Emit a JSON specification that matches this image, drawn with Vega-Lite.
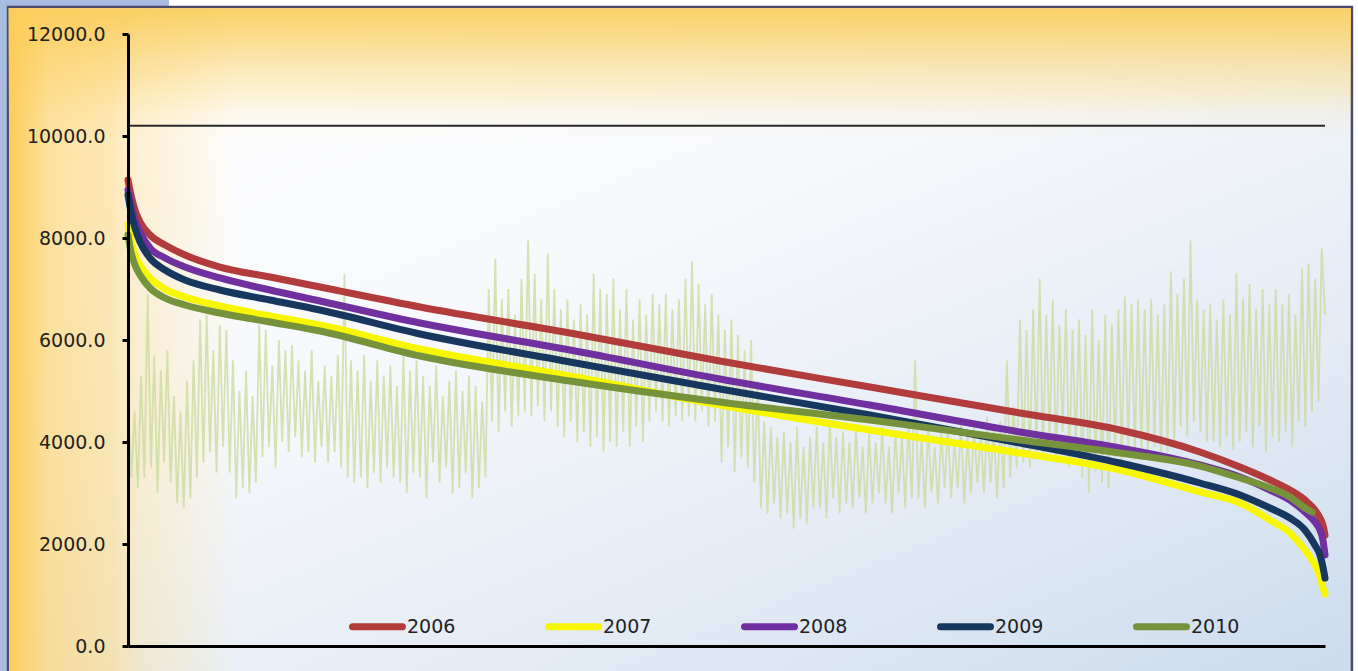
{
  "$schema": "https://vega.github.io/schema/vega-lite/v6.json",
  "width": 1197,
  "height": 612,
  "autosize": {"type": "none"},
  "padding": {"left": 128, "top": 34, "right": 33, "bottom": 25},
  "background": "#ffffff",
  "config": {
    "view": {"stroke": null},
    "font": "DejaVu Sans",
    "legend": {
      "orient": "none",
      "legendX": 221,
      "legendY": 564,
      "direction": "horizontal",
      "symbolType": "stroke",
      "symbolSize": 2500,
      "symbolStrokeWidth": 7,
      "labelFont": "DejaVu Sans",
      "labelFontSize": 19,
      "labelColor": "#222222",
      "labelOffset": 1,
      "columnPadding": 78,
      "padding": 0,
      "zindex": 2
    }
  },
  "resolve": {"axis": {"x": "independent", "y": "independent"}},
  "datasets": {
    "one": [{}],
    "curves": [
      {"year":"2006","t":0,"v":9137},{"year":"2006","t":22,"v":8843},{"year":"2006","t":51,"v":8549},{"year":"2006","t":88,"v":8314},{"year":"2006","t":161,"v":8059},{"year":"2006","t":271,"v":7863},{"year":"2006","t":417,"v":7667},{"year":"2006","t":673,"v":7431},{"year":"2006","t":1039,"v":7235},{"year":"2006","t":1405,"v":7039},{"year":"2006","t":2137,"v":6647},{"year":"2006","t":3235,"v":6137},{"year":"2006","t":4332,"v":5588},{"year":"2006","t":5430,"v":5078},{"year":"2006","t":6528,"v":4569},{"year":"2006","t":7259,"v":4235},{"year":"2006","t":7845,"v":3804},{"year":"2006","t":8138,"v":3510},{"year":"2006","t":8357,"v":3255},{"year":"2006","t":8503,"v":3059},{"year":"2006","t":8613,"v":2863},{"year":"2006","t":8686,"v":2667},{"year":"2006","t":8723,"v":2510},{"year":"2006","t":8745,"v":2373},{"year":"2006","t":8760,"v":2176},
      {"year":"2007","t":0,"v":8255},{"year":"2007","t":22,"v":7961},{"year":"2007","t":51,"v":7667},{"year":"2007","t":88,"v":7471},{"year":"2007","t":161,"v":7216},{"year":"2007","t":271,"v":7000},{"year":"2007","t":417,"v":6843},{"year":"2007","t":673,"v":6667},{"year":"2007","t":1039,"v":6471},{"year":"2007","t":1405,"v":6294},{"year":"2007","t":2137,"v":5824},{"year":"2007","t":3235,"v":5294},{"year":"2007","t":4332,"v":4725},{"year":"2007","t":5430,"v":4235},{"year":"2007","t":6528,"v":3784},{"year":"2007","t":7259,"v":3451},{"year":"2007","t":7845,"v":3020},{"year":"2007","t":8138,"v":2804},{"year":"2007","t":8357,"v":2471},{"year":"2007","t":8503,"v":2216},{"year":"2007","t":8613,"v":1882},{"year":"2007","t":8686,"v":1588},{"year":"2007","t":8723,"v":1353},{"year":"2007","t":8745,"v":1137},{"year":"2007","t":8760,"v":1020},
      {"year":"2008","t":0,"v":8941},{"year":"2008","t":22,"v":8647},{"year":"2008","t":51,"v":8353},{"year":"2008","t":88,"v":8118},{"year":"2008","t":161,"v":7804},{"year":"2008","t":271,"v":7608},{"year":"2008","t":417,"v":7431},{"year":"2008","t":673,"v":7216},{"year":"2008","t":1039,"v":6980},{"year":"2008","t":1405,"v":6765},{"year":"2008","t":2137,"v":6333},{"year":"2008","t":3235,"v":5804},{"year":"2008","t":4332,"v":5235},{"year":"2008","t":5430,"v":4725},{"year":"2008","t":6528,"v":4196},{"year":"2008","t":7259,"v":3882},{"year":"2008","t":7845,"v":3549},{"year":"2008","t":8138,"v":3314},{"year":"2008","t":8357,"v":3059},{"year":"2008","t":8503,"v":2863},{"year":"2008","t":8613,"v":2627},{"year":"2008","t":8686,"v":2431},{"year":"2008","t":8723,"v":2275},{"year":"2008","t":8745,"v":2078},{"year":"2008","t":8760,"v":1784},
      {"year":"2009","t":0,"v":8843},{"year":"2009","t":22,"v":8510},{"year":"2009","t":51,"v":8196},{"year":"2009","t":88,"v":7922},{"year":"2009","t":161,"v":7608},{"year":"2009","t":271,"v":7373},{"year":"2009","t":417,"v":7176},{"year":"2009","t":673,"v":6980},{"year":"2009","t":1039,"v":6784},{"year":"2009","t":1405,"v":6588},{"year":"2009","t":2137,"v":6118},{"year":"2009","t":3235,"v":5569},{"year":"2009","t":4332,"v":5039},{"year":"2009","t":5430,"v":4529},{"year":"2009","t":6528,"v":3980},{"year":"2009","t":7259,"v":3588},{"year":"2009","t":7845,"v":3196},{"year":"2009","t":8138,"v":2961},{"year":"2009","t":8357,"v":2706},{"year":"2009","t":8503,"v":2510},{"year":"2009","t":8613,"v":2275},{"year":"2009","t":8686,"v":1980},{"year":"2009","t":8723,"v":1784},{"year":"2009","t":8745,"v":1549},{"year":"2009","t":8760,"v":1333},
      {"year":"2010","t":0,"v":8059},{"year":"2010","t":22,"v":7725},{"year":"2010","t":51,"v":7471},{"year":"2010","t":88,"v":7275},{"year":"2010","t":161,"v":7020},{"year":"2010","t":271,"v":6824},{"year":"2010","t":417,"v":6686},{"year":"2010","t":673,"v":6529},{"year":"2010","t":1039,"v":6353},{"year":"2010","t":1405,"v":6176},{"year":"2010","t":2137,"v":5686},{"year":"2010","t":3235,"v":5196},{"year":"2010","t":4332,"v":4784},{"year":"2010","t":5430,"v":4431},{"year":"2010","t":6528,"v":4039},{"year":"2010","t":7259,"v":3784},{"year":"2010","t":7845,"v":3529},{"year":"2010","t":8138,"v":3294},{"year":"2010","t":8357,"v":3098},{"year":"2010","t":8503,"v":2922},{"year":"2010","t":8613,"v":2706},{"year":"2010","t":8665,"v":2627}
    ],
    "hourly": [
      {"t":0,"v":4800},{"t":24,"v":3300},{"t":48,"v":4600},{"t":72,"v":3100},{"t":96,"v":5300},{"t":120,"v":3300},{"t":144,"v":6900},{"t":168,"v":3500},{"t":192,"v":5700},{"t":216,"v":3000},
      {"t":240,"v":5400},{"t":264,"v":3600},{"t":288,"v":5800},{"t":312,"v":3200},{"t":336,"v":4900},{"t":360,"v":2800},{"t":384,"v":4600},{"t":408,"v":2700},{"t":432,"v":5200},{"t":456,"v":2900},
      {"t":480,"v":5600},{"t":504,"v":3300},{"t":528,"v":6400},{"t":552,"v":3600},{"t":576,"v":6500},{"t":600,"v":3800},{"t":624,"v":5800},{"t":648,"v":3400},{"t":672,"v":6300},{"t":696,"v":3900},
      {"t":720,"v":6200},{"t":744,"v":3400},{"t":768,"v":5600},{"t":792,"v":2900},{"t":816,"v":5000},{"t":840,"v":3100},{"t":864,"v":5400},{"t":888,"v":3000},{"t":912,"v":4900},{"t":936,"v":3200},
      {"t":960,"v":6300},{"t":984,"v":3700},{"t":1008,"v":6200},{"t":1032,"v":3900},{"t":1056,"v":5500},{"t":1080,"v":3500},{"t":1104,"v":6000},{"t":1128,"v":4000},{"t":1152,"v":5800},{"t":1176,"v":3800},
      {"t":1200,"v":5900},{"t":1224,"v":4100},{"t":1248,"v":5600},{"t":1272,"v":3700},{"t":1296,"v":5400},{"t":1320,"v":3800},{"t":1344,"v":5800},{"t":1368,"v":3600},{"t":1392,"v":5200},{"t":1416,"v":3900},
      {"t":1440,"v":5500},{"t":1464,"v":3600},{"t":1488,"v":5300},{"t":1512,"v":3800},{"t":1536,"v":5700},{"t":1560,"v":3500},{"t":1584,"v":7300},{"t":1608,"v":3300},{"t":1632,"v":5600},{"t":1656,"v":3200},
      {"t":1680,"v":5400},{"t":1704,"v":3300},{"t":1728,"v":5700},{"t":1752,"v":3100},{"t":1776,"v":5200},{"t":1800,"v":3400},{"t":1824,"v":5600},{"t":1848,"v":3200},{"t":1872,"v":5300},{"t":1896,"v":3500},
      {"t":1920,"v":5500},{"t":1944,"v":3300},{"t":1968,"v":5100},{"t":1992,"v":3200},{"t":2016,"v":5700},{"t":2040,"v":3000},{"t":2064,"v":5400},{"t":2088,"v":3400},{"t":2112,"v":5600},{"t":2136,"v":3300},
      {"t":2160,"v":5300},{"t":2184,"v":2900},{"t":2208,"v":5100},{"t":2232,"v":3600},{"t":2256,"v":5500},{"t":2280,"v":3200},{"t":2304,"v":4900},{"t":2328,"v":3500},{"t":2352,"v":5200},{"t":2376,"v":3000},
      {"t":2400,"v":5400},{"t":2424,"v":3100},{"t":2448,"v":5000},{"t":2472,"v":3400},{"t":2496,"v":5300},{"t":2520,"v":2900},{"t":2544,"v":5100},{"t":2568,"v":3100},{"t":2592,"v":4800},{"t":2616,"v":3300},
      {"t":2640,"v":7000},{"t":2664,"v":4400},{"t":2688,"v":7600},{"t":2712,"v":4200},{"t":2736,"v":6800},{"t":2760,"v":4600},{"t":2784,"v":7000},{"t":2808,"v":4300},{"t":2832,"v":6500},{"t":2856,"v":4500},
      {"t":2880,"v":7200},{"t":2904,"v":4600},{"t":2928,"v":7950},{"t":2952,"v":4500},{"t":2976,"v":7300},{"t":3000,"v":4700},{"t":3024,"v":6800},{"t":3048,"v":4400},{"t":3072,"v":7700},{"t":3096,"v":4600},
      {"t":3120,"v":7000},{"t":3144,"v":4300},{"t":3168,"v":6600},{"t":3192,"v":4100},{"t":3216,"v":6800},{"t":3240,"v":4400},{"t":3264,"v":6400},{"t":3288,"v":4000},{"t":3312,"v":6700},{"t":3336,"v":4200},
      {"t":3360,"v":6500},{"t":3384,"v":3900},{"t":3408,"v":7300},{"t":3432,"v":4100},{"t":3456,"v":7000},{"t":3480,"v":3800},{"t":3504,"v":6900},{"t":3528,"v":4000},{"t":3552,"v":7200},{"t":3576,"v":3900},
      {"t":3600,"v":6600},{"t":3624,"v":4200},{"t":3648,"v":7000},{"t":3672,"v":3900},{"t":3696,"v":6400},{"t":3720,"v":4300},{"t":3744,"v":6800},{"t":3768,"v":4000},{"t":3792,"v":6500},{"t":3816,"v":4400},
      {"t":3840,"v":6900},{"t":3864,"v":4600},{"t":3888,"v":6700},{"t":3912,"v":4400},{"t":3936,"v":6900},{"t":3960,"v":4300},{"t":3984,"v":6600},{"t":4008,"v":4500},{"t":4032,"v":6800},{"t":4056,"v":4400},
      {"t":4080,"v":7200},{"t":4104,"v":4500},{"t":4128,"v":7550},{"t":4152,"v":4400},{"t":4176,"v":7100},{"t":4200,"v":4600},{"t":4224,"v":6700},{"t":4248,"v":4300},{"t":4272,"v":6900},{"t":4296,"v":4400},
      {"t":4320,"v":6500},{"t":4344,"v":3600},{"t":4368,"v":6200},{"t":4392,"v":3900},{"t":4416,"v":6400},{"t":4440,"v":3400},{"t":4464,"v":6100},{"t":4488,"v":3700},{"t":4512,"v":5800},{"t":4536,"v":3500},
      {"t":4560,"v":6000},{"t":4584,"v":3200},{"t":4608,"v":5200},{"t":4632,"v":2700},{"t":4656,"v":4400},{"t":4680,"v":2600},{"t":4704,"v":4300},{"t":4728,"v":2800},{"t":4752,"v":4100},{"t":4776,"v":2500},
      {"t":4800,"v":4200},{"t":4824,"v":2600},{"t":4848,"v":4000},{"t":4872,"v":2300},{"t":4896,"v":4300},{"t":4920,"v":2500},{"t":4944,"v":3900},{"t":4968,"v":2400},{"t":4992,"v":4100},{"t":5016,"v":2700},
      {"t":5040,"v":4300},{"t":5064,"v":2700},{"t":5088,"v":4000},{"t":5112,"v":2500},{"t":5136,"v":4400},{"t":5160,"v":2900},{"t":5184,"v":4100},{"t":5208,"v":2600},{"t":5232,"v":4200},{"t":5256,"v":2800},
      {"t":5280,"v":4000},{"t":5304,"v":2700},{"t":5328,"v":4300},{"t":5352,"v":2900},{"t":5376,"v":3900},{"t":5400,"v":2600},{"t":5424,"v":4200},{"t":5448,"v":2800},{"t":5472,"v":4000},{"t":5496,"v":3000},
      {"t":5520,"v":4300},{"t":5544,"v":2800},{"t":5568,"v":3900},{"t":5592,"v":2600},{"t":5616,"v":4200},{"t":5640,"v":3000},{"t":5664,"v":4100},{"t":5688,"v":2700},{"t":5712,"v":4400},{"t":5736,"v":2900},
      {"t":5760,"v":5600},{"t":5784,"v":2900},{"t":5808,"v":4100},{"t":5832,"v":2700},{"t":5856,"v":4300},{"t":5880,"v":3000},{"t":5904,"v":3900},{"t":5928,"v":2800},{"t":5952,"v":4200},{"t":5976,"v":3100},
      {"t":6000,"v":4300},{"t":6024,"v":2900},{"t":6048,"v":4000},{"t":6072,"v":3100},{"t":6096,"v":4400},{"t":6120,"v":2800},{"t":6144,"v":4100},{"t":6168,"v":3000},{"t":6192,"v":4300},{"t":6216,"v":3200},
      {"t":6240,"v":4200},{"t":6264,"v":3000},{"t":6288,"v":4500},{"t":6312,"v":3200},{"t":6336,"v":4300},{"t":6360,"v":2900},{"t":6384,"v":4400},{"t":6408,"v":3100},{"t":6432,"v":5600},{"t":6456,"v":3300},
      {"t":6480,"v":4700},{"t":6504,"v":3500},{"t":6528,"v":6400},{"t":6552,"v":3600},{"t":6576,"v":6200},{"t":6600,"v":3500},{"t":6624,"v":6600},{"t":6648,"v":3800},{"t":6672,"v":7200},{"t":6696,"v":3700},
      {"t":6720,"v":6500},{"t":6744,"v":4000},{"t":6768,"v":6800},{"t":6792,"v":3600},{"t":6816,"v":6300},{"t":6840,"v":4200},{"t":6864,"v":6600},{"t":6888,"v":3500},{"t":6912,"v":6200},{"t":6936,"v":3900},
      {"t":6960,"v":6400},{"t":6984,"v":3300},{"t":7008,"v":6100},{"t":7032,"v":3000},{"t":7056,"v":6600},{"t":7080,"v":3400},{"t":7104,"v":6000},{"t":7128,"v":3200},{"t":7152,"v":6500},{"t":7176,"v":3100},
      {"t":7200,"v":6300},{"t":7224,"v":3700},{"t":7248,"v":6600},{"t":7272,"v":3600},{"t":7296,"v":6850},{"t":7320,"v":3900},{"t":7344,"v":6700},{"t":7368,"v":3650},{"t":7392,"v":6800},{"t":7416,"v":3800},
      {"t":7440,"v":6600},{"t":7464,"v":3700},{"t":7488,"v":6800},{"t":7512,"v":3900},{"t":7536,"v":6500},{"t":7560,"v":3600},{"t":7584,"v":6700},{"t":7608,"v":3800},{"t":7632,"v":7350},{"t":7656,"v":3900},
      {"t":7680,"v":6900},{"t":7704,"v":4300},{"t":7728,"v":7200},{"t":7752,"v":4100},{"t":7776,"v":7950},{"t":7800,"v":4400},{"t":7824,"v":6800},{"t":7848,"v":4200},{"t":7872,"v":6600},{"t":7896,"v":4000},
      {"t":7920,"v":6700},{"t":7944,"v":4000},{"t":7968,"v":6400},{"t":7992,"v":3900},{"t":8016,"v":6800},{"t":8040,"v":4100},{"t":8064,"v":6500},{"t":8088,"v":3850},{"t":8112,"v":7300},{"t":8136,"v":4000},
      {"t":8160,"v":6800},{"t":8184,"v":4200},{"t":8208,"v":7100},{"t":8232,"v":3900},{"t":8256,"v":6600},{"t":8280,"v":4300},{"t":8304,"v":7000},{"t":8328,"v":3800},{"t":8352,"v":6700},{"t":8376,"v":4100},
      {"t":8400,"v":7000},{"t":8424,"v":4000},{"t":8448,"v":6700},{"t":8472,"v":4200},{"t":8496,"v":6900},{"t":8520,"v":3900},{"t":8544,"v":6500},{"t":8568,"v":4400},{"t":8592,"v":7400},{"t":8616,"v":4300},
      {"t":8640,"v":7500},{"t":8664,"v":4600},{"t":8688,"v":7200},{"t":8712,"v":4800},{"t":8736,"v":7800},{"t":8760,"v":6500}
    ]
  },
  "layer": [
    {
      "data": {"name": "one"},
      "mark": {"type": "rect", "fill": "#a8bbe0"},
      "encoding": {
        "x": {"datum": -1400, "type": "quantitative", "scale": {"domain": [0, 8760], "nice": false, "zero": false}, "axis": null},
        "x2": {"datum": -885},
        "y": {"datum": 14000, "type": "quantitative", "scale": {"domain": [0, 12000], "nice": false}, "axis": null},
        "y2": {"datum": -1500}
      }
    },
    {
      "data": {"name": "one"},
      "mark": {"type": "rect", "fill": "#a8bbe0"},
      "encoding": {
        "x": {"datum": -1400, "type": "quantitative", "scale": {"domain": [0, 8760], "nice": false, "zero": false}, "axis": null},
        "x2": {"datum": 300},
        "y": {"datum": 14000, "type": "quantitative", "scale": {"domain": [0, 12000], "nice": false}, "axis": null},
        "y2": {"datum": 12549}
      }
    },
    {
      "data": {"name": "one"},
      "mark": {
        "type": "rect",
        "fill": {"gradient": "linear", "x1": 0.2, "y1": 0, "x2": 1, "y2": 1, "stops": [
          {"offset": 0, "color": "#ffffff"},
          {"offset": 0.35, "color": "#f6f8fb"},
          {"offset": 0.7, "color": "#e2eaf4"},
          {"offset": 1, "color": "#c9dbee"}
        ]},
        "stroke": "#4b4a6b",
        "strokeWidth": 2.5
      },
      "encoding": {
        "x": {"datum": -878, "type": "quantitative", "scale": {"domain": [0, 8760], "nice": false, "zero": false}, "axis": null},
        "x2": {"datum": 8957},
        "y": {"datum": 12529, "type": "quantitative", "scale": {"domain": [0, 12000], "nice": false}, "axis": null},
        "y2": {"datum": -900}
      }
    },
    {
      "data": {"name": "one"},
      "mark": {
        "type": "rect",
        "fill": {"gradient": "linear", "x1": 0, "y1": 0, "x2": 0, "y2": 1, "stops": [
          {"offset": 0, "color": "rgba(249,208,100,1)"},
          {"offset": 0.034, "color": "rgba(249,208,100,0.78)"},
          {"offset": 0.079, "color": "rgba(249,208,100,0.5)"},
          {"offset": 0.123, "color": "rgba(249,208,100,0.27)"},
          {"offset": 0.155, "color": "rgba(249,208,100,0.1)"},
          {"offset": 0.19, "color": "rgba(249,208,100,0)"}
        ]}
      },
      "encoding": {
        "x": {"datum": -875, "type": "quantitative", "scale": {"domain": [0, 8760], "nice": false, "zero": false}, "axis": null},
        "x2": {"datum": 8950},
        "y": {"datum": 12505, "type": "quantitative", "scale": {"domain": [0, 12000], "nice": false}, "axis": null},
        "y2": {"datum": -900}
      }
    },
    {
      "data": {"name": "one"},
      "mark": {
        "type": "rect",
        "fill": {"gradient": "linear", "x1": 0, "y1": 0, "x2": 1, "y2": 0, "stops": [
          {"offset": 0, "color": "rgba(252,204,88,1)"},
          {"offset": 0.03, "color": "rgba(252,204,88,0.57)"},
          {"offset": 0.075, "color": "rgba(252,204,88,0.43)"},
          {"offset": 0.097, "color": "rgba(252,204,88,0.25)"},
          {"offset": 0.142, "color": "rgba(252,204,88,0.1)"},
          {"offset": 0.17, "color": "rgba(252,204,88,0)"}
        ]}
      },
      "encoding": {
        "x": {"datum": -871, "type": "quantitative", "scale": {"domain": [0, 8760], "nice": false, "zero": false}, "axis": null},
        "x2": {"datum": 8950},
        "y": {"datum": 12505, "type": "quantitative", "scale": {"domain": [0, 12000], "nice": false}, "axis": null},
        "y2": {"datum": -900}
      }
    },
    {
      "data": {"name": "hourly"},
      "mark": {"type": "line", "stroke": "#c9d99b", "strokeWidth": 1.8, "opacity": 0.75},
      "encoding": {
        "x": {"field": "t", "type": "quantitative", "scale": {"domain": [0, 8760], "nice": false, "zero": false}, "axis": null},
        "y": {"field": "v", "type": "quantitative", "scale": {"domain": [0, 12000], "nice": false}, "axis": null}
      }
    },
    {
      "data": {"name": "one"},
      "mark": {"type": "rule", "color": "#2a2a2a", "strokeWidth": 2},
      "encoding": {
        "y": {"datum": 10200, "type": "quantitative", "scale": {"domain": [0, 12000], "nice": false}, "axis": null}
      }
    },
    {
      "data": {"name": "curves"},
      "mark": {"type": "line", "strokeWidth": 7, "strokeCap": "round", "strokeJoin": "round", "interpolate": "monotone"},
      "encoding": {
        "x": {"field": "t", "type": "quantitative", "scale": {"domain": [0, 8760], "nice": false, "zero": false},
          "axis": {"labels": false, "ticks": false, "domain": true, "domainColor": "#000000", "domainWidth": 3, "title": null, "grid": false, "zindex": 2}},
        "y": {"field": "v", "type": "quantitative", "scale": {"domain": [0, 12000], "nice": false},
          "axis": {"values": [0, 2000, 4000, 6000, 8000, 10000, 12000], "format": ".1f", "domainColor": "#000000", "domainWidth": 3, "tickColor": "#000000", "tickWidth": 3, "tickSize": 6, "labelFont": "DejaVu Sans", "labelFontSize": 19, "labelColor": "#222222", "labelPadding": 17, "title": null, "grid": false, "zindex": 2}},
        "color": {"field": "year", "type": "nominal",
          "scale": {"domain": ["2006", "2007", "2008", "2009", "2010"], "range": ["#b23b3c", "#f7f700", "#7030a0", "#17375e", "#76933c"]},
          "legend": {"title": null, "encode": {"symbols": {"update": {"strokeCap": {"value": "round"}}}}}}
      }
    }
  ]
}
